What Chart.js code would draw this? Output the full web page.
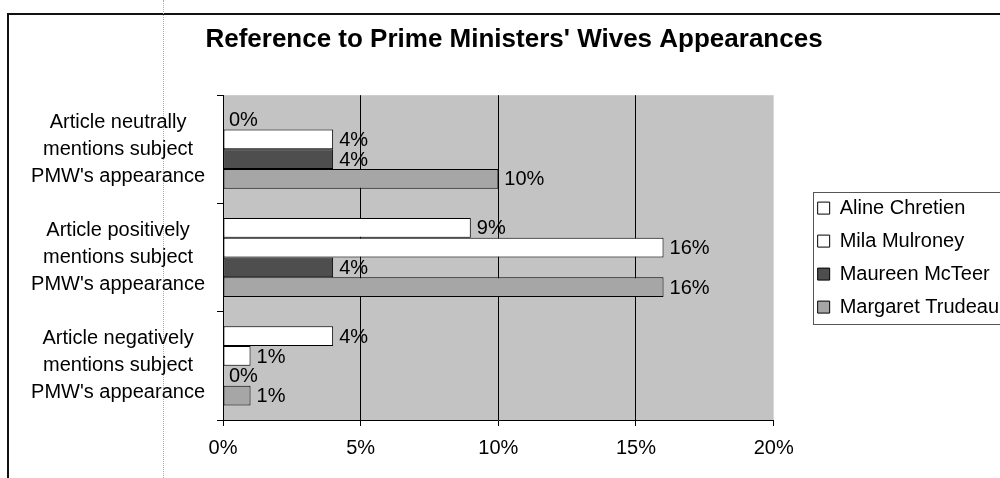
<!DOCTYPE html>
<html>
<head>
<meta charset="utf-8">
<script src="https://cdn.jsdelivr.net/npm/chart.js@4.4.1/dist/chart.umd.min.js"></script>
<style>
  html, body { margin: 0; padding: 0; background: #fff; overflow: hidden; width: 1000px; height: 478px; }
  #frame { position: absolute; left: 7px; top: 13px; width: 1100px; height: 600px;
           border-left: 2px solid #111; border-top: 2px solid #111; }
  #fold { position: absolute; left: 163px; top: 0; width: 0; height: 478px;
          border-left: 1px dotted #aaa; }
  #wrap { position: absolute; left: 0; top: 0; width: 1009px; height: 478px; }
</style>
</head>
<body>
<div id="frame"></div>
<div id="fold"></div>
<div id="wrap"><canvas id="chart"></canvas></div>
<script>
// Categories (multi-line axis labels)
const categories = [
  ['Article neutrally', 'mentions subject', "PMW's appearance"],
  ['Article positively', 'mentions subject', "PMW's appearance"],
  ['Article negatively', 'mentions subject', "PMW's appearance"]
];

// Share of articles, in percent, per category
const seriesNames = ['Aline Chretien', 'Mila Mulroney', 'Maureen McTeer', 'Margaret Trudeau'];
const alineChretien   = [0, 9, 4];
const milaMulroney    = [4, 16, 1];
const maureenMcTeer   = [4, 4, 0];
const margaretTrudeau = [10, 16, 1];

// Value axis ticks
const xTicks = [0, 5, 10, 15, 20];

const fills = ['#ffffff', '#ffffff', '#4e4e4e', '#a6a6a6'];
const values = [alineChretien, milaMulroney, maureenMcTeer, margaretTrudeau];

const FONT = "'Liberation Sans', Arial, sans-serif";

// Grey plot-area background
const plotBackground = {
  id: 'plotBackground',
  beforeDraw(chart) {
    const { ctx, chartArea: a } = chart;
    ctx.save();
    ctx.fillStyle = '#c3c3c3';
    ctx.fillRect(a.left, a.top, a.right - a.left, a.bottom - a.top);
    ctx.restore();
  }
};

// Percent labels at the end of each bar
const valueLabels = {
  id: 'valueLabels',
  afterDatasetsDraw(chart) {
    const { ctx } = chart;
    ctx.save();
    ctx.font = '20px ' + FONT;
    ctx.fillStyle = '#000';
    ctx.textAlign = 'left';
    ctx.textBaseline = 'middle';
    chart.data.datasets.forEach((ds, i) => {
      chart.getDatasetMeta(i).data.forEach((bar, j) => {
        ctx.fillText(ds.data[j] + '%', bar.x + 6, bar.y + 1);
      });
    });
    ctx.restore();
  }
};

// Frame around the legend
const legendFrame = {
  id: 'legendFrame',
  afterDraw(chart) {
    const lg = chart.legend;
    if (!lg || !lg.legendHitBoxes.length) return;
    const hb = lg.legendHitBoxes;
    const first = hb[0], last = hb[hb.length - 1];
    const { ctx } = chart;
    ctx.save();
    ctx.strokeStyle = '#555';
    ctx.lineWidth = 1;
    const left = Math.round(first.left - 5) + 0.5;
    const top = Math.round(first.top - 6) + 0.5;
    const bottom = Math.round(last.top + last.height + 7) + 0.5;
    ctx.strokeRect(left, top, chart.width + 20 - left, bottom - top);
    ctx.restore();
  }
};

new Chart(document.getElementById('chart'), {
  type: 'bar',
  data: {
    labels: categories,
    datasets: seriesNames.map((name, i) => ({
      label: name,
      data: values[i],
      backgroundColor: fills[i],
      borderColor: '#000',
      borderWidth: 1,
      borderSkipped: false,
      categoryPercentage: 0.73,
      barPercentage: 1.0
    }))
  },
  options: {
    indexAxis: 'y',
    responsive: true,
    maintainAspectRatio: false,
    animation: false,
    layout: { padding: { left: 19, right: 0, top: 0, bottom: 8 } },
    plugins: {
      title: {
        display: true,
        fullSize: true,
        text: "Reference to Prime Ministers' Wives Appearances",
        color: '#000',
        font: { family: FONT, size: 26, weight: 'bold' },
        padding: { top: 24, bottom: 40 }
      },
      legend: {
        position: 'right',
        align: 'center',
        fullSize: false,
        maxWidth: 320,
        labels: {
          color: '#000',
          font: { family: FONT, size: 20 },
          boxWidth: 12,
          boxHeight: 12,
          padding: 13
        }
      },
      tooltip: { enabled: false }
    },
    scales: {
      x: {
        type: 'linear',
        min: xTicks[0],
        max: xTicks[xTicks.length - 1],
        afterBuildTicks(scale) { scale.ticks = xTicks.map(v => ({ value: v })); },
        ticks: {
          color: '#000',
          font: { family: FONT, size: 20 },
          padding: 10,
          callback: v => v + '%'
        },
        grid: {
          color: c => (c.tick && (c.tick.value === xTicks[0] || c.tick.value === xTicks[xTicks.length - 1])) ? 'rgba(0,0,0,0)' : '#000',
          tickColor: '#000',
          tickLength: 6,
          lineWidth: 1
        },
        border: { display: true, color: '#000', width: 1 }
      },
      y: {
        type: 'category',
        afterFit(scale) { scale.width = 204; },
        ticks: {
          color: '#000',
          font: { family: FONT, size: 20, lineHeight: 1.35 },
          crossAlign: 'center',
          padding: 12
        },
        grid: {
          offset: true,
          drawOnChartArea: false,
          tickColor: '#000',
          tickLength: 6
        },
        border: { display: true, color: '#000', width: 1 }
      },
      y2: {
        type: 'category',
        position: 'right',
        display: true,
        ticks: { display: false },
        grid: { display: false },
        border: { display: false },
        afterFit(scale) { scale.width = 31; }
      }
    }
  },
  plugins: [plotBackground, valueLabels, legendFrame]
});
</script>
</body>
</html>
